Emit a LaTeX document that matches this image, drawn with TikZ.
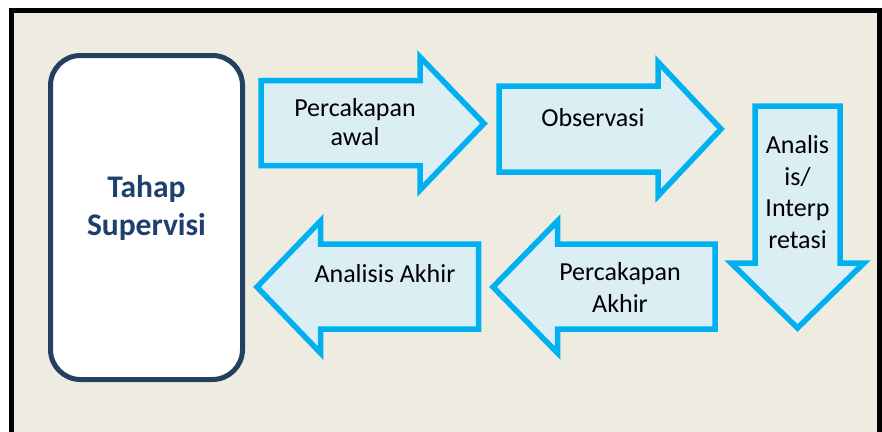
\documentclass[tikz,border=0pt]{standalone}
\usepackage{fontspec}
\setmainfont{Carlito}
\definecolor{bgtan}{HTML}{EEECE1}
\definecolor{arrfill}{HTML}{DAEEF3}
\definecolor{arrline}{HTML}{00B0F0}
\definecolor{navy}{HTML}{243F60}
\definecolor{navytext}{HTML}{1F3F6E}
\tikzset{
  blockarrow/.style={draw=arrline, fill=arrfill, line width=5.5pt, miter limit=10},
  arrlabel/.style={inner sep=0pt, align=center, font=\fontsize{26}{30}\selectfont, text=black},
  stagebox/.style={draw=navy, fill=white, line width=5pt, rounded corners=30pt},
  stagelabel/.style={inner sep=0pt, align=center, font=\fontsize{31.5}{38}\selectfont\bfseries, text=navytext}
}
\begin{document}
\begin{tikzpicture}[x=1pt,y=-1pt]
\useasboundingbox (0,0) rectangle (882,431);
% frame
\fill[white] (0,0) rectangle (882,431);
\draw[line width=5pt, fill=bgtan] (11.7,10.8) rectangle (879.5,445);
% stage box
\draw[stagebox] (50.5,55.5) rectangle (242.5,379.5);
\node[stagelabel] (tahap) at (146.5,207.5) {Tahap\\Supervisi};
% arrow 1
\draw[blockarrow] (261,80.5) -- (420,80.5) -- (420,57) -- (484,123.5) -- (420,190) -- (420,165.5) -- (261,165.5) -- cycle;
\node[arrlabel, font=\fontsize{26}{29}\selectfont] (pawal) at (355,121.7) {Percakapan\\awal};
% arrow 2
\draw[blockarrow] (499,86) -- (658,86) -- (658,62) -- (721,129) -- (658,196) -- (658,172) -- (499,172) -- cycle;
\node[arrlabel, anchor=base] (obs) at (593,126) {Observasi};
% down arrow
\draw[blockarrow] (755,106) -- (840,106) -- (840,263) -- (864,263) -- (797.5,328) -- (731,263) -- (755,263) -- cycle;
\node[arrlabel, font=\fontsize{26}{31.8}\selectfont] (anal) at (797.5,192) {Analis\\is/\\Interp\\retasi};
% left arrow: Percakapan Akhir
\draw[blockarrow] (715,244) -- (557.5,244) -- (557.5,221) -- (493,287) -- (557.5,353) -- (557.5,329) -- (715,329) -- cycle;
\node[arrlabel, font=\fontsize{26}{32}\selectfont] (pakhir) at (620,287) {Percakapan\\Akhir};
% left arrow: Analisis Akhir
\draw[blockarrow] (478.5,244) -- (320.5,244) -- (320.5,221) -- (257,287) -- (320.5,353) -- (320.5,329) -- (478.5,329) -- cycle;
\node[arrlabel, anchor=base] (aakhir) at (385,282) {Analisis Akhir};
\end{tikzpicture}
\end{document}
